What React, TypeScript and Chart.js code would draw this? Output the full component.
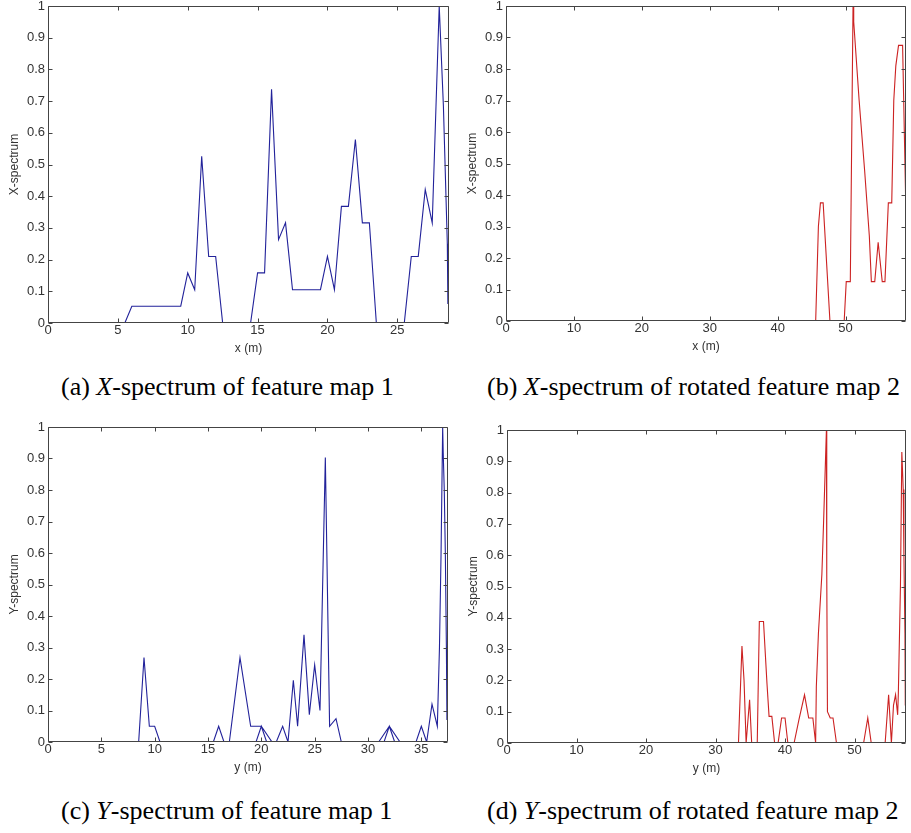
import React, { useEffect, useRef } from "react";
import { Chart, registerables } from "chart.js";

Chart.register(...registerables);

// ---------- tick labels ----------
const yTicks = [0, 0.1, 0.2, 0.3, 0.4, 0.5, 0.6, 0.7, 0.8, 0.9, 1];
const xTicksA = [0, 5, 10, 15, 20, 25];
const xTicksB = [0, 10, 20, 30, 40, 50];
const xTicksC = [0, 5, 10, 15, 20, 25, 30, 35];
const xTicksD = [0, 10, 20, 30, 40, 50];

// ---------- (a) X-spectrum of feature map 1 ----------
const xA = [0, 5.5, 6, 9.5, 10, 10.5, 11, 11.5, 12, 12.5, 14.5, 15, 15.5, 16, 16.5, 17, 17.5, 19.5, 20, 20.5, 21, 21.5, 22, 22.5, 23, 23.5, 25.5, 26, 26.5, 27, 27.5, 28, 28.3, 28.58, 28.62, 28.66];
const yA = [0, 0, 0.053, 0.053, 0.158, 0.105, 0.526, 0.21, 0.21, 0, 0, 0.158, 0.158, 0.737, 0.263, 0.316, 0.105, 0.105, 0.21, 0.105, 0.368, 0.368, 0.579, 0.316, 0.316, 0, 0, 0.21, 0.21, 0.421, 0.316, 1.0, 0.684, 0.25, 0.06, 0.2];

// ---------- (b) X-spectrum of rotated feature map 2 ----------
const xB = [0, 45.6, 46.0, 46.3, 46.7, 47.7, 49.8, 50.1, 50.7, 51.1, 51.2, 52.0, 52.8, 53.5, 53.8, 54.3, 54.8, 55.4, 55.8, 56.3, 56.8, 57.1, 57.4, 57.8, 58.4, 58.7, 58.9];
const yB = [0, 0, 0.3, 0.375, 0.375, 0, 0, 0.125, 0.125, 1.0, 0.95, 0.7, 0.48, 0.27, 0.125, 0.125, 0.25, 0.125, 0.125, 0.375, 0.375, 0.7, 0.81, 0.875, 0.875, 0.55, 0.33];

// ---------- (c) Y-spectrum of feature map 1 ----------
const xC = [0, 8.5, 9, 9.5, 10, 10.5, 15.5, 16, 16.5, 17, 18, 19, 20, 21, 20.5, 20, 19.5, 21.4, 22, 22.5, 23, 23.4, 24, 24.5, 25, 25.5, 26, 26.4, 27, 27.5, 31, 32, 33, 32.5, 32, 31.5, 34.5, 35, 35.5, 36, 36.5, 36.7, 36.85, 37, 37.05, 37.15, 37.25, 37.35, 37.4, 37.45, 37.48];
const yC = [0, 0, 0.268, 0.05, 0.05, 0, 0, 0.05, 0, 0, 0.268, 0.05, 0.05, 0, 0, 0.05, 0, 0, 0.05, 0, 0.196, 0.05, 0.34, 0.087, 0.245, 0.1, 0.903, 0.05, 0.074, 0, 0, 0.05, 0, 0, 0.05, 0, 0, 0.05, 0, 0.12, 0.05, 0.3, 0.6, 1.0, 0.92, 0.8, 0.6, 0.3, 0.07, 0.25, 0.08];

// ---------- (d) Y-spectrum of rotated feature map 2 ----------
const xD = [0, 33.3, 33.8, 34.1, 34.4, 34.9, 35.2, 36.0, 36.3, 36.9, 37.4, 37.7, 38.1, 38.5, 39.0, 39.5, 40.0, 40.4, 41.3, 42.0, 42.8, 43.4, 44.0, 44.4, 44.5, 44.8, 45.3, 45.55, 45.95, 46.0, 46.1, 46.5, 46.9, 47.4, 51.3, 51.9, 52.4, 54.4, 54.9, 55.3, 55.6, 55.9, 56.2, 56.3, 56.6, 56.8, 57.0, 57.1, 57.25, 57.3];
const yD = [0, 0, 0.31, 0.2, 0, 0.138, 0, 0, 0.388, 0.388, 0.19, 0.085, 0.085, 0, 0, 0.08, 0.08, 0, 0, 0.075, 0.154, 0.08, 0.08, 0, 0.18, 0.35, 0.54, 0.71, 1.0, 0.54, 0.1, 0.08, 0.08, 0, 0, 0.08, 0, 0, 0.154, 0, 0.12, 0.154, 0.09, 0.16, 0.5, 0.93, 0.81, 0.6, 0.35, 0.12];

const FONT = '"Liberation Sans", Arial, sans-serif';
const TEXT_COLOR = "#333333";
const FRAME_COLOR = "#444444";
const Y_AXIS_W = 48;
const X_AXIS_H = 35;
const PAD_TOP = 6;

const framePlugin = {
  id: "matlabFrame",
  afterDatasetsDraw(chart: any, _args: any, opts: any) {
    const { ctx, chartArea } = chart;
    const { left, right, top, bottom } = chartArea;
    const xs = chart.scales.x;
    const ys = chart.scales.y;
    const L = Math.round(left) + 0.5;
    const R = Math.round(right) - 0.5;
    const T = Math.round(top) + 0.5;
    const B = Math.round(bottom) - 0.5;
    const tl = 4;
    ctx.save();
    ctx.strokeStyle = opts.color;
    ctx.lineWidth = 1;
    ctx.beginPath();
    ctx.rect(L, T, R - L, B - T);
    for (const v of opts.xTicks) {
      const px = Math.round(xs.getPixelForValue(v)) + 0.5;
      ctx.moveTo(px, B);
      ctx.lineTo(px, B - tl);
      ctx.moveTo(px, T);
      ctx.lineTo(px, T + tl);
    }
    for (const v of opts.yTicks) {
      const py = Math.round(ys.getPixelForValue(v)) + 0.5;
      ctx.moveTo(L, py);
      ctx.lineTo(L + tl, py);
      ctx.moveTo(R, py);
      ctx.lineTo(R - tl, py);
    }
    ctx.stroke();
    ctx.restore();
  },
};

type PanelProps = {
  xs: number[];
  ys: number[];
  xMax: number;
  xTicks: number[];
  color: string;
  xTitle: string;
  yTitle: string;
  left: number;
  top: number;
  right: number;
  bottom: number;
  padRight: number;
};

function SpectrumChart(p: PanelProps) {
  const ref = useRef<HTMLCanvasElement>(null);
  const W = p.right - p.left + Y_AXIS_W + p.padRight;
  const H = p.bottom - p.top + PAD_TOP + X_AXIS_H;

  useEffect(() => {
    const chart = new Chart(ref.current as HTMLCanvasElement, {
      type: "scatter",
      data: {
        datasets: [
          {
            data: p.xs.map((x, i) => ({ x, y: p.ys[i] })),
            showLine: true,
            borderColor: p.color,
            backgroundColor: p.color,
            borderWidth: 1.1,
            pointRadius: 0,
            pointHoverRadius: 0,
            fill: false,
            tension: 0,
          },
        ],
      },
      options: {
        responsive: false,
        animation: false,
        devicePixelRatio: 1,
        events: [],
        layout: { padding: { top: PAD_TOP, right: p.padRight, left: 0, bottom: 0 } },
        plugins: {
          legend: { display: false },
          tooltip: { enabled: false },
          // @ts-ignore
          matlabFrame: { color: FRAME_COLOR, xTicks: p.xTicks, yTicks },
        },
        scales: {
          x: {
            type: "linear",
            position: "bottom",
            min: 0,
            max: p.xMax,
            grid: { display: false, drawTicks: false },
            border: { display: false },
            afterBuildTicks: (s: any) => {
              s.ticks = p.xTicks.map((v) => ({ value: v }));
            },
            afterFit: (s: any) => {
              s.height = X_AXIS_H;
              s.paddingLeft = 0;
              s.paddingRight = 0;
            },
            ticks: {
              color: TEXT_COLOR,
              font: { family: FONT, size: 13 },
              padding: 0,
              maxRotation: 0,
              autoSkip: false,
              callback: (v: any) => String(v),
            },
            title: {
              display: true,
              text: p.xTitle,
              color: TEXT_COLOR,
              font: { family: FONT, size: 12 },
              padding: { top: 0, bottom: 2 },
            },
          },
          y: {
            type: "linear",
            position: "left",
            min: 0,
            max: 1,
            grid: { display: false, drawTicks: false },
            border: { display: false },
            afterBuildTicks: (s: any) => {
              s.ticks = yTicks.map((v) => ({ value: v }));
            },
            afterFit: (s: any) => {
              s.width = Y_AXIS_W;
              s.paddingTop = 0;
              s.paddingBottom = 0;
            },
            ticks: {
              color: TEXT_COLOR,
              font: { family: FONT, size: 13 },
              padding: 3,
              autoSkip: false,
              callback: (v: any) => String(Math.round(Number(v) * 10) / 10),
            },
            title: {
              display: true,
              text: p.yTitle,
              color: TEXT_COLOR,
              font: { family: FONT, size: 12 },
              padding: { top: 7, bottom: 0 },
            },
          },
        },
      },
      plugins: [framePlugin as any],
    });
    return () => chart.destroy();
  }, []);

  return (
    <canvas
      ref={ref}
      width={W}
      height={H}
      style={{ position: "absolute", left: p.left - Y_AXIS_W, top: p.top - PAD_TOP, width: W, height: H }}
    />
  );
}

const BLUE = "#22229a";
const RED = "#cc2222";

const captionStyle: React.CSSProperties = {
  position: "absolute",
  fontFamily: '"Liberation Serif", "Times New Roman", serif',
  fontSize: 26,
  lineHeight: "26px",
  whiteSpace: "nowrap",
  color: "#000",
};

export default function App() {
  return (
    <div
      style={{
        position: "absolute",
        left: 0,
        top: 0,
        width: 911,
        height: 833,
        background: "#fff",
        overflow: "hidden",
      }}
    >
      <SpectrumChart xs={xA} ys={yA} xMax={28.7} xTicks={xTicksA} color={BLUE} xTitle="x (m)" yTitle="X-spectrum" left={48} top={6} right={449} bottom={323} padRight={6} />
      <SpectrumChart xs={xB} ys={yB} xMax={58.9} xTicks={xTicksB} color={RED} xTitle="x (m)" yTitle="X-spectrum" left={506} top={6} right={906} bottom={321} padRight={5} />
      <SpectrumChart xs={xC} ys={yC} xMax={37.5} xTicks={xTicksC} color={BLUE} xTitle="y (m)" yTitle="Y-spectrum" left={48} top={427} right={448} bottom={742} padRight={6} />
      <SpectrumChart xs={xD} ys={yD} xMax={57.4} xTicks={xTicksD} color={RED} xTitle="y (m)" yTitle="Y-spectrum" left={507} top={430} right={906} bottom={743} padRight={5} />

      <div style={{ ...captionStyle, left: 61, top: 374 }}>
        (a) <i>X</i>-spectrum of feature map 1
      </div>
      <div style={{ ...captionStyle, left: 487, top: 374 }}>
        (b) <i>X</i>-spectrum of rotated feature map 2
      </div>
      <div style={{ ...captionStyle, left: 61, top: 798 }}>
        (c) <i>Y</i>-spectrum of feature map 1
      </div>
      <div style={{ ...captionStyle, left: 487, top: 798 }}>
        (d) <i>Y</i>-spectrum of rotated feature map 2
      </div>
    </div>
  );
}
